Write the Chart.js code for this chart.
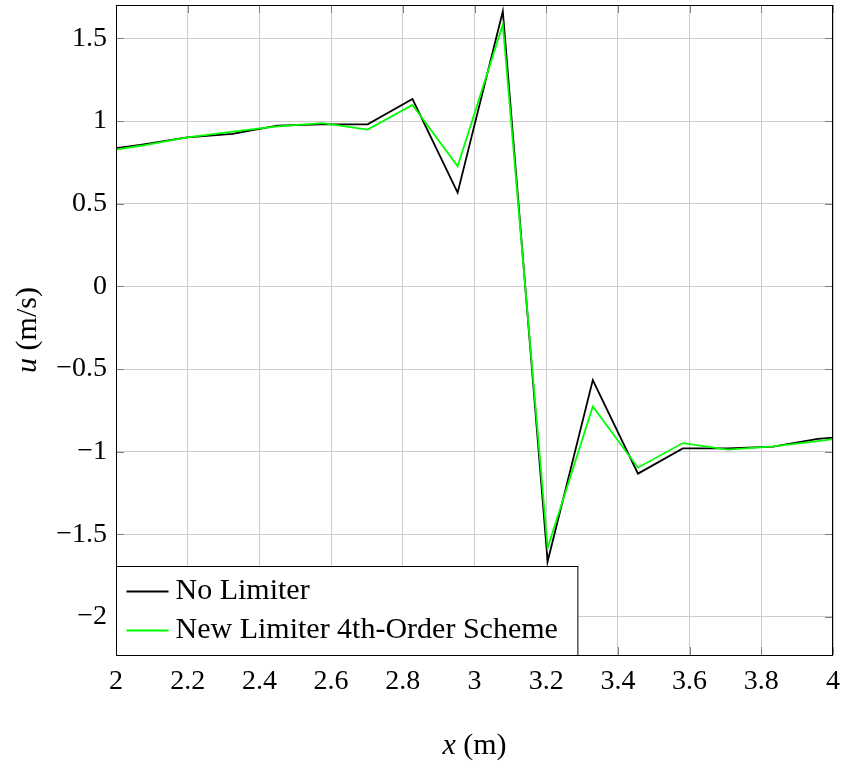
<!DOCTYPE html>
<html>
<head>
<meta charset="utf-8">
<title>Velocity profile</title>
<script src="https://cdn.jsdelivr.net/npm/chart.js@4.4.1/dist/chart.umd.min.js"></script>
<style>
  body { margin: 0; background: #fff; }
  canvas { display: block; }
</style>
</head>
<body>
<canvas id="velChart" width="844" height="766"></canvas>
<script>
// cell centres (m) and velocity u (m/s) for both runs
const x_pos = [1.948, 2.073, 2.199, 2.325, 2.450, 2.576, 2.702, 2.827, 2.953,
               3.079, 3.204, 3.330, 3.456, 3.581, 3.707, 3.833, 3.958, 4.084];
const u_no_limiter = [0.820, 0.858, 0.901, 0.922, 0.972, 0.980, 0.980, 1.133, 0.567,
                      1.664, -1.664, -0.567, -1.133, -0.980, -0.980, -0.970, -0.922, -0.901];
const u_new_limiter = [0.810, 0.852, 0.901, 0.936, 0.968, 0.988, 0.948, 1.097, 0.726,
                       1.583, -1.583, -0.726, -1.097, -0.948, -0.988, -0.968, -0.936, -0.901];
const series_labels = ['No Limiter', 'New Limiter 4th-Order Scheme'];
const series_colors = ['#000000', '#00ff00'];

const serif = '"Liberation Serif", "Times New Roman", serif';
const tickSize = 28;
const textSize = 30;

function toPoints(ys) {
  return x_pos.map((x, i) => ({ x: x, y: ys[i] }));
}

function fmtTick(v) {
  const s = String(Math.round(v * 10) / 10);
  return s.replace('-', '\u2212');
}

// draws "italic-symbol (unit)" centred at 0,0
function drawMathLabel(ctx, sym, unit) {
  ctx.font = `italic ${textSize}px ${serif}`;
  const w1 = ctx.measureText(sym).width;
  ctx.font = `${textSize}px ${serif}`;
  const w2 = ctx.measureText(unit).width;
  const x0 = -(w1 + w2) / 2;
  ctx.textAlign = 'left';
  ctx.textBaseline = 'middle';
  ctx.font = `italic ${textSize}px ${serif}`;
  ctx.fillText(sym, x0, 0);
  ctx.font = `${textSize}px ${serif}`;
  ctx.fillText(unit, x0 + w1, 0);
}

const framePlugin = {
  id: 'frame',
  afterDatasetsDraw(chart) {
    const { ctx, chartArea: a, scales: { x, y } } = chart;
    const len = 8;
    ctx.save();
    ctx.strokeStyle = '#808080';
    ctx.lineWidth = 1;
    ctx.beginPath();
    x.ticks.forEach(t => {
      const px = Math.round(x.getPixelForValue(t.value)) + 0.5;
      ctx.moveTo(px, a.top); ctx.lineTo(px, a.top + len);
      ctx.moveTo(px, a.bottom); ctx.lineTo(px, a.bottom - len);
    });
    y.ticks.forEach(t => {
      const py = Math.round(y.getPixelForValue(t.value)) + 0.5;
      ctx.moveTo(a.left, py); ctx.lineTo(a.left + len, py);
      ctx.moveTo(a.right, py); ctx.lineTo(a.right - len, py);
    });
    ctx.stroke();
    ctx.strokeStyle = '#000';
    ctx.strokeRect(a.left + 0.5, a.top + 0.5, a.right - a.left - 1, a.bottom - a.top);
    ctx.restore();
  },
  afterDraw(chart) {
    const { ctx, chartArea: a } = chart;
    const ds = chart.data.datasets;
    ctx.save();

    // legend box in the lower left corner
    ctx.font = `${textSize}px ${serif}`;
    const textW = Math.max(...ds.map(d => ctx.measureText(d.label).width));
    const bx = a.left + 0.5, bh = 89, by = a.bottom - bh + 0.5;
    const bw = 59 + textW + 20;
    ctx.fillStyle = '#fff';
    ctx.fillRect(bx, by, bw, bh);
    ctx.strokeStyle = '#000';
    ctx.lineWidth = 1;
    ctx.strokeRect(bx, by, bw, bh);
    ds.forEach((d, i) => {
      const cy = by + 25 + i * 39;
      ctx.strokeStyle = d.borderColor;
      ctx.lineWidth = 1.8;
      ctx.beginPath();
      ctx.moveTo(bx + 10, cy);
      ctx.lineTo(bx + 52, cy);
      ctx.stroke();
      ctx.fillStyle = '#000';
      ctx.textAlign = 'left';
      ctx.textBaseline = 'middle';
      ctx.fillText(d.label, bx + 59, cy);
    });

    // axis titles
    ctx.fillStyle = '#000';
    ctx.save();
    ctx.translate((a.left + a.right) / 2, 746);
    drawMathLabel(ctx, 'x', ' (m)');
    ctx.restore();
    ctx.save();
    ctx.translate(28, (a.top + a.bottom) / 2);
    ctx.rotate(-Math.PI / 2);
    drawMathLabel(ctx, 'u', ' (m/s)');
    ctx.restore();

    ctx.restore();
  }
};

new Chart(document.getElementById('velChart'), {
  type: 'scatter',
  data: {
    datasets: [
      {
        label: series_labels[0],
        data: toPoints(u_no_limiter),
        borderColor: series_colors[0],
        backgroundColor: series_colors[0],
        borderWidth: 1.8,
        showLine: true,
        pointRadius: 0,
        order: 2
      },
      {
        label: series_labels[1],
        data: toPoints(u_new_limiter),
        borderColor: series_colors[1],
        backgroundColor: series_colors[1],
        borderWidth: 1.8,
        showLine: true,
        pointRadius: 0,
        order: 1
      }
    ]
  },
  options: {
    responsive: false,
    animation: false,
    layout: { padding: { top: 5, right: 11, left: 0, bottom: 0 } },
    plugins: {
      legend: { display: false },
      tooltip: { enabled: false }
    },
    scales: {
      x: {
        type: 'linear',
        min: 2,
        max: 4,
        afterFit(scale) {
          scale.height = 111;
          scale.paddingLeft = 0;
          scale.paddingRight = 0;
        },
        ticks: {
          stepSize: 0.2,
          padding: 10,
          color: '#000',
          font: { family: serif, size: tickSize },
          maxRotation: 0,
          callback: v => fmtTick(v)
        },
        grid: { color: '#cccccc', lineWidth: 1, drawTicks: false },
        border: { display: false }
      },
      y: {
        type: 'linear',
        min: -2.23,
        max: 1.702,
        afterFit(scale) {
          scale.width = 116;
          scale.paddingTop = 0;
          scale.paddingBottom = 0;
        },
        ticks: {
          stepSize: 0.5,
          includeBounds: false,
          padding: 9,
          color: '#000',
          font: { family: serif, size: tickSize },
          callback: v => fmtTick(v)
        },
        grid: { color: '#cccccc', lineWidth: 1, drawTicks: false },
        border: { display: false }
      }
    }
  },
  plugins: [framePlugin]
});
</script>
</body>
</html>
